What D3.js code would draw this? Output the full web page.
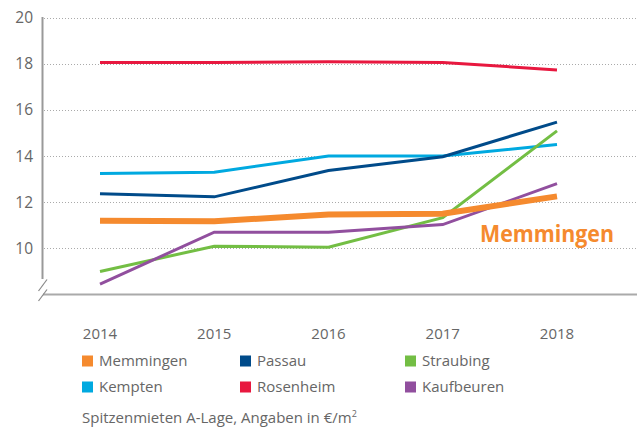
<!DOCTYPE html>
<html>
<head>
<meta charset="utf-8">
<script src="https://cdn.jsdelivr.net/npm/d3@7"></script>
<style>
  body { margin: 0; background: #fff; }
  text { font-family: "Open Sans", sans-serif; }
</style>
</head>
<body>
<div id="chart"></div>
<script>
const years = ['2014', '2015', '2016', '2017', '2018']
const yTicks = [10, 12, 14, 16, 18, 20]

const memmingen = [11.2, 11.17, 11.47, 11.5, 12.25]
const passau = [12.36, 12.23, 13.37, 13.97, 15.47]
const straubing = [9.0, 10.09, 10.05, 11.33, 15.09]
const kempten = [13.24, 13.3, 14.0, 14.0, 14.5]
const rosenheim = [18.05, 18.05, 18.08, 18.05, 17.73]
const kaufbeuren = [8.45, 10.7, 10.7, 11.03, 12.8]

const seriesNames = ['Memmingen', 'Passau', 'Straubing', 'Kempten', 'Rosenheim', 'Kaufbeuren']
const seriesColors = ['#f58a2e', '#004b8a', '#73be44', '#00a9e0', '#e8183f', '#914f9e']
const seriesValues = [memmingen, passau, straubing, kempten, rosenheim, kaufbeuren]

const width = 644
const height = 429

const svg = d3.select('#chart')
    .append('svg')
    .attr('width', width)
    .attr('height', height)

const xScale = d3.scalePoint()
    .domain(years)
    .range([100, 557])

const yScale = d3.scaleLinear()
    .domain([8, 20])
    .range([294.5, 17.5])

// dotted gridlines
svg.append('g')
    .selectAll('line')
    .data(yTicks)
    .enter()
    .append('line')
    .attr('x1', 44)
    .attr('x2', 637)
    .attr('y1', d => Math.round(yScale(d)) + 0.5)
    .attr('y2', d => Math.round(yScale(d)) + 0.5)
    .attr('stroke', '#aaa')
    .attr('stroke-width', 1)
    .attr('stroke-dasharray', '1,2')

// y labels
svg.append('g')
    .selectAll('text')
    .data(yTicks)
    .enter()
    .append('text')
    .text(d => d)
    .attr('x', 33)
    .attr('y', d => yScale(d))
    .attr('dy', '0.36em')
    .attr('text-anchor', 'end')
    .attr('font-size', 15.5)
    .attr('fill', '#666')

/* axes with break */
svg.append('line')
    .attr('x1', 42.5).attr('x2', 42.5)
    .attr('y1', 17).attr('y2', 279)
    .attr('stroke', '#999').attr('stroke-width', 2)
svg.append('line')
    .attr('x1', 43).attr('x2', 637)
    .attr('y1', 294.5).attr('y2', 294.5)
    .attr('stroke', '#aaa').attr('stroke-width', 2)
svg.append('line')
    .attr('x1', 38.5).attr('y1', 291)
    .attr('x2', 47).attr('y2', 279.5)
    .attr('stroke', '#888').attr('stroke-width', 1.2)
svg.append('line')
    .attr('x1', 38.5).attr('y1', 301)
    .attr('x2', 47).attr('y2', 289.5)
    .attr('stroke', '#888').attr('stroke-width', 1.2)

// x labels
svg.append('g')
    .selectAll('text')
    .data(years)
    .enter()
    .append('text')
    .text(d => d)
    .attr('x', d => xScale(d))
    .attr('y', 339)
    .attr('text-anchor', 'middle')
    .attr('font-size', 15)
    .attr('fill', '#666')

const line = d3.line()
    .x((d, i) => xScale(years[i]))
    .y(d => yScale(d))

// draw Memmingen last so it sits on top
const drawOrder = [4, 3, 1, 2, 5, 0]
drawOrder.forEach(k => {
    svg.append('path')
        .datum(seriesValues[k])
        .attr('fill', 'none')
        .attr('stroke', seriesColors[k])
        .attr('stroke-width', k === 0 ? 6 : 3)
        .attr('d', line)
})

/* Memmingen highlight label */
svg.append('text')
    .text('Memmingen')
    .attr('x', 480)
    .attr('y', 242)
    .attr('font-size', 24)
    .attr('font-weight', 700)
    .attr('textLength', 134)
    .attr('lengthAdjust', 'spacingAndGlyphs')
    .attr('fill', '#f58a2e')

/* legend */
const legendX = [82, 240, 405]
const legendY = [361, 387]
seriesNames.forEach((name, i) => {
    const col = i % 3
    const row = Math.floor(i / 3)
    svg.append('rect')
        .attr('x', legendX[col])
        .attr('y', legendY[row] - 5.5)
        .attr('width', 11)
        .attr('height', 11)
        .attr('fill', seriesColors[i])
    svg.append('text')
        .text(name)
        .attr('x', legendX[col] + 17)
        .attr('y', legendY[row])
        .attr('dy', '0.36em')
        .attr('font-size', 15)
        .attr('fill', '#666')
})

svg.append('text')
    .attr('x', 82)
    .attr('y', 423)
    .attr('font-size', 15)
    .attr('fill', '#666')
    .text('Spitzenmieten A-Lage, Angaben in €/m')
    .append('tspan')
    .text('2')
    .attr('font-size', 9)
    .attr('dy', -6)
</script>
</body>
</html>
